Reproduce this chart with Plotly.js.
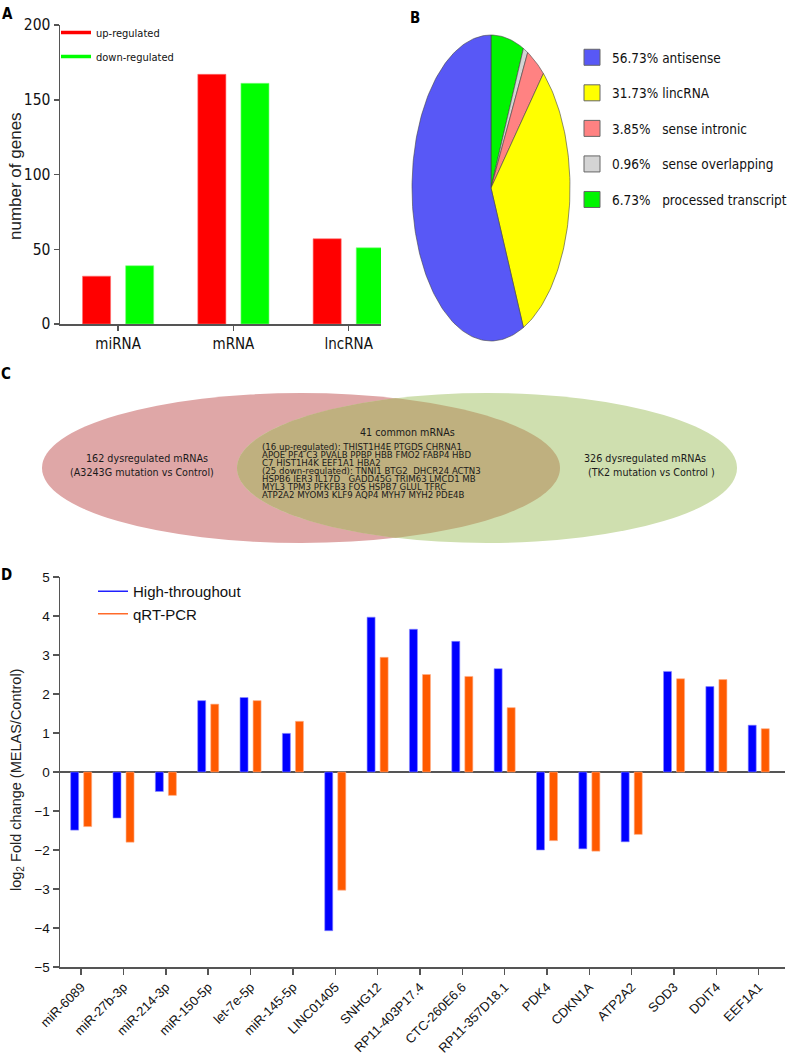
<!DOCTYPE html>
<html><head><meta charset="utf-8">
<script src="https://cdn.plot.ly/plotly-3.0.1.min.js"></script>
<style>html,body{margin:0;padding:0;background:#fff}</style>
</head><body><div id="chart" style="width:787px;height:1057px"></div>
<script>
// ---------- Panel A ----------
const geneTypes = ['miRNA', 'mRNA', 'lncRNA'];
const upRegulated = [32, 167, 57];
const downRegulated = [39, 161, 51];
const regLabels = ['up-regulated', 'down-regulated'];
const yTitleA = 'number of genes';

// ---------- Panel B ----------
const lncClasses = ['antisense', 'lincRNA', 'sense intronic', 'sense overlapping', 'processed transcript'];
const lncPercent = [56.73, 31.73, 3.85, 0.96, 6.73];
const lncColors = ['#5858f6', '#ffff00', '#ff8282', '#d4d4d4', '#00f500'];

// ---------- Panel C ----------
const vennLeftText = ['162 dysregulated mRNAs', '(A3243G mutation vs Control)'];
const vennRightText = ['326 dysregulated mRNAs', '(TK2 mutation vs Control )'];
const vennCommonTitle = '41 common mRNAs';
const vennCommonLines = [
  '(16 up-regulated): THIST1H4E PTGDS CHRNA1',
  'APOE PF4 C3 PVALB PPBP HBB FMO2 FABP4 HBD',
  'C7 HIST1H4K EEF1A1 HBA2',
  '(25 down-regulated): TNNI1 BTG2  DHCR24 ACTN3',
  'HSPB6 IER3 IL17D   GADD45G TRIM63 LMCD1 MB',
  'MYL3 TPM3 PFKFB3 FOS HSPB7 GLUL TFRC',
  'ATP2A2 MYOM3 KLF9 AQP4 MYH7 MYH2 PDE4B'
];

// ---------- Panel D ----------
const genes = ['miR-6089', 'miR-27b-3p', 'miR-214-3p', 'miR-150-5p', 'let-7e-5p', 'miR-145-5p',
  'LINC01405', 'SNHG12', 'RP11-403P17.4', 'CTC-260E6.6', 'RP11-357D18.1', 'PDK4', 'CDKN1A',
  'ATP2A2', 'SOD3', 'DDIT4', 'EEF1A1'];
const highThroughput = [-1.49, -1.18, -0.50, 1.83, 1.91, 0.99, -4.07, 3.97, 3.66, 3.35, 2.65, -2.00, -1.97, -1.79, 2.58, 2.19, 1.20];
const qrtPcr = [-1.40, -1.80, -0.60, 1.74, 1.83, 1.30, -3.03, 2.94, 2.50, 2.45, 1.65, -1.76, -2.03, -1.60, 2.39, 2.37, 1.11];
const methodLabels = ['High-throughout', 'qRT-PCR'];
const yTitleD = 'log<sub>2</sub> Fold change (MELAS/Control)';

// ---------- helpers ----------
const W = 787, H = 1057;
const fx = x => x / W;
const fy = y => 1 - y / H;
const NARROW = '"Liberation Sans Narrow", "Arial Narrow", "DejaVu Sans Condensed", sans-serif';
const SANS = '"Liberation Sans", Arial, sans-serif';
const AXC = '#555555';

const traces = [];

// Panel A bars
traces.push({type: 'bar', x: geneTypes, y: upRegulated, xaxis: 'x', yaxis: 'y',
  width: 0.2435, offset: -0.3087, marker: {color: '#ff0000', line: {color: '#ff7070', width: 0.6}},
  showlegend: false, hoverinfo: 'y'});
traces.push({type: 'bar', x: geneTypes, y: downRegulated, xaxis: 'x', yaxis: 'y',
  width: 0.2435, offset: 0.0652, marker: {color: '#00ff00', line: {color: '#80ff80', width: 0.6}},
  showlegend: false, hoverinfo: 'y'});
// Panel A legend entries
[['#ff0000', regLabels[0]], ['#00ff00', regLabels[1]]].forEach((c, i) => {
  traces.push({type: 'scatter', mode: 'lines', x: [null], y: [null], xaxis: 'x', yaxis: 'y',
    name: c[1], line: {color: c[0], width: 3.5}, legend: 'legend', legendgroup: 'a' + i});
});

// Panel B: elliptical pie, slices clockwise from 12 o'clock, starting with the last class
(function () {
  let cum = 0;
  const total = lncPercent.reduce((a, b) => a + b, 0);
  for (let k = lncPercent.length - 1; k >= 0; k--) {
    const a0 = cum / total, a1 = (cum + lncPercent[k]) / total;
    cum += lncPercent[k];
    const xs = [0], ys = [0];
    const n = Math.max(4, Math.ceil((a1 - a0) * 240));
    for (let j = 0; j <= n; j++) {
      const t = 2 * Math.PI * (a0 + (a1 - a0) * j / n);
      xs.push(Math.sin(t)); ys.push(Math.cos(t));
    }
    xs.push(0); ys.push(0);
    traces.push({type: 'scatter', mode: 'lines', x: xs, y: ys, xaxis: 'x2', yaxis: 'y2',
      fill: 'toself', fillcolor: lncColors[k], line: {color: '#444444', width: 0.6},
      showlegend: false, hoverinfo: 'text', text: lncClasses[k] + ': ' + lncPercent[k] + '%'});
  }
  const gaps = ['\u00a0', '\u00a0', '\u00a0\u00a0\u00a0', '\u00a0\u00a0\u00a0', '\u00a0\u00a0\u00a0'];
  lncClasses.forEach((c, i) => {
    traces.push({type: 'scatter', mode: 'markers', x: [null], y: [null], xaxis: 'x2', yaxis: 'y2',
      name: lncPercent[i].toFixed(2) + '%' + gaps[i] + c,
      marker: {symbol: 'square', size: 16, color: lncColors[i], line: {color: '#666666', width: 1}},
      legend: 'legend2', legendgroup: 'b' + i});
  });
})();

// Panel D bars
traces.push({type: 'bar', x: genes, y: highThroughput, xaxis: 'x4', yaxis: 'y4',
  width: 0.189, offset: -0.2485, marker: {color: '#0000ff', line: {color: '#8c8cff', width: 0.6}},
  showlegend: false});
traces.push({type: 'bar', x: genes, y: qrtPcr, xaxis: 'x4', yaxis: 'y4',
  width: 0.189, offset: 0.0595, marker: {color: '#ff5a00', line: {color: '#ffb08a', width: 0.6}},
  showlegend: false});
[['#2020ff', methodLabels[0]], ['#ff6a2a', methodLabels[1]]].forEach((c, i) => {
  traces.push({type: 'scatter', mode: 'lines', x: [null], y: [null], xaxis: 'x4', yaxis: 'y4',
    name: c[1], line: {color: c[0], width: 1.5}, legend: 'legend3', legendgroup: 'd' + i});
});

// Panel B geometry (pixels)
const pie = {cx: 491, cy: 188, rx: 79, ry: 153, pad: 4};
// Panel C geometry (pixels)
const venn = {cy: 468, ry: 75, lcx: 301, lrx: 259, rcx: 487, rrx: 250};

// Lens path (intersection of the two ellipses)
function lensPath() {
  const s = (venn.rcx - venn.lcx) / (venn.lrx + venn.rrx);
  const a = Math.acos(s);
  const pts = [];
  const n = 80;
  for (let j = 0; j <= n; j++) {
    const t = -a + 2 * a * j / n;
    pts.push([venn.lcx + venn.lrx * Math.cos(t), venn.cy + venn.ry * Math.sin(t)]);
  }
  for (let j = 0; j <= n; j++) {
    const t = Math.PI - a + 2 * a * j / n;
    pts.push([venn.rcx + venn.rrx * Math.cos(t), venn.cy + venn.ry * Math.sin(t)]);
  }
  return 'M' + pts.map(p => p[0].toFixed(2) + ',' + p[1].toFixed(2)).join('L') + 'Z';
}

const axisCommon = {showline: true, linecolor: AXC, linewidth: 1.5, ticks: 'outside',
  tickcolor: AXC, tickwidth: 1.5, showgrid: false, zeroline: false, fixedrange: true};
const hidden = {visible: false, showgrid: false, zeroline: false, fixedrange: true};

const annotations = [];
function label(txt, x, y) {
  annotations.push({text: txt, xref: 'paper', yref: 'paper', x: fx(x), y: fy(y),
    xanchor: 'center', yanchor: 'middle', showarrow: false,
    font: {family: NARROW, size: 15, color: '#000', weight: 'bold'}});
}
label('A', 7, 14); label('B', 415, 18); label('C', 6, 374); label('D', 6, 575);

// vertical axis titles
function vtitle(txt, x, y, size) {
  annotations.push({text: txt, xref: 'paper', yref: 'paper', x: fx(x), y: fy(y),
    xanchor: 'center', yanchor: 'middle', textangle: -90, showarrow: false,
    font: {family: SANS, size: size, color: '#222'}});
}
vtitle(yTitleA, 15, 176, 17);
vtitle(yTitleD, 17, 780, 14.5);

const vennFont = {family: '"DejaVu Sans", Verdana, sans-serif', size: 8.6, color: '#1a1a1a'};
function vtext(t, x, y, anchor, size) {
  annotations.push({text: t.replace(/ {2,}/g, m => '\u00a0'.repeat(m.length)), xref: 'x3', yref: 'y3', x: x, y: y,
    xanchor: anchor, yanchor: 'middle', showarrow: false, borderpad: 0,
    font: Object.assign({}, vennFont, size ? {size: size} : {})});
}
vtext(vennLeftText[0], 147, 459, 'center', 9.6);
vtext(vennLeftText[1], 142, 473, 'center', 9.6);
vtext(vennRightText[0], 645, 459, 'center', 9.6);
vtext(vennRightText[1], 651, 473, 'center', 9.6);
vtext(vennCommonTitle, 407, 433, 'center', 9.6);
vennCommonLines.forEach((l, i) => vtext(l, 261, 447 + 8.0 * i, 'left'));

const legendBase = {xref: 'container', yref: 'container', xanchor: 'left', yanchor: 'top',
  bgcolor: 'rgba(0,0,0,0)', traceorder: 'grouped', borderwidth: 0};

const layout = {
  width: W, height: H, margin: {l: 0, r: 0, t: 0, b: 0, autoexpand: false},
  paper_bgcolor: '#fff', plot_bgcolor: 'rgba(0,0,0,0)',
  barmode: 'overlay', showlegend: true,
  xaxis: Object.assign({}, axisCommon, {domain: [fx(60), fx(381)], range: [-0.504, 2.28],
    ticklen: 5, tickfont: {family: NARROW, size: 15, color: '#111'}, anchor: 'y'}),
  yaxis: Object.assign({}, axisCommon, {domain: [fy(324), fy(25)], range: [0, 200], dtick: 50,
    ticklen: 5, tickfont: {family: NARROW, size: 15.5, color: '#111'}, anchor: 'x'}),
  xaxis2: Object.assign({}, hidden, {domain: [fx(pie.cx - pie.rx - pie.pad), fx(pie.cx + pie.rx + pie.pad)],
    range: [-(1 + pie.pad / pie.rx), 1 + pie.pad / pie.rx], anchor: 'y2'}),
  yaxis2: Object.assign({}, hidden, {domain: [fy(pie.cy + pie.ry + pie.pad), fy(pie.cy - pie.ry - pie.pad)],
    range: [-(1 + pie.pad / pie.ry), 1 + pie.pad / pie.ry], anchor: 'x2'}),
  xaxis3: Object.assign({}, hidden, {domain: [0, 1], range: [0, W], anchor: 'y3'}),
  yaxis3: Object.assign({}, hidden, {domain: [fy(565), fy(365)], range: [565, 365], anchor: 'x3'}),
  xaxis4: Object.assign({}, axisCommon, {domain: [fx(60), fx(785)], range: [-0.5, 16.62],
    ticklen: 6, tickangle: -45, tickfont: {family: SANS, size: 13, color: '#111'}, anchor: 'y4'}),
  yaxis4: Object.assign({}, axisCommon, {domain: [fy(967), fy(577)], range: [-5, 5], dtick: 1,
    ticklen: 6, tickfont: {family: SANS, size: 13.5, color: '#111'}, anchor: 'x4',
    zeroline: true, zerolinecolor: AXC, zerolinewidth: 1.5}),
  legend: Object.assign({}, legendBase, {x: fx(56), y: fy(18),
    font: {family: NARROW, size: 11, color: '#111'}, tracegroupgap: 5}),
  legend2: Object.assign({}, legendBase, {x: fx(572), y: fy(42),
    font: {family: NARROW, size: 13.5, color: '#111'}, tracegroupgap: 15}),
  legend3: Object.assign({}, legendBase, {x: fx(93), y: fy(575),
    font: {family: SANS, size: 15, color: '#111'}, tracegroupgap: 0}),
  shapes: [
    {type: 'circle', xref: 'x3', yref: 'y3', layer: 'below',
      x0: venn.lcx - venn.lrx, x1: venn.lcx + venn.lrx, y0: venn.cy - venn.ry, y1: venn.cy + venn.ry,
      fillcolor: '#dfa7a7', line: {width: 0}},
    {type: 'circle', xref: 'x3', yref: 'y3', layer: 'below',
      x0: venn.rcx - venn.rrx, x1: venn.rcx + venn.rrx, y0: venn.cy - venn.ry, y1: venn.cy + venn.ry,
      fillcolor: '#cfdfaf', line: {width: 0}},
    {type: 'path', xref: 'x3', yref: 'y3', layer: 'below', path: lensPath(),
      fillcolor: '#bfb07f', line: {width: 0}}
  ],
  annotations: annotations
};

Plotly.newPlot('chart', traces, layout, {displayModeBar: false, staticPlot: true});
</script>
</body></html>
